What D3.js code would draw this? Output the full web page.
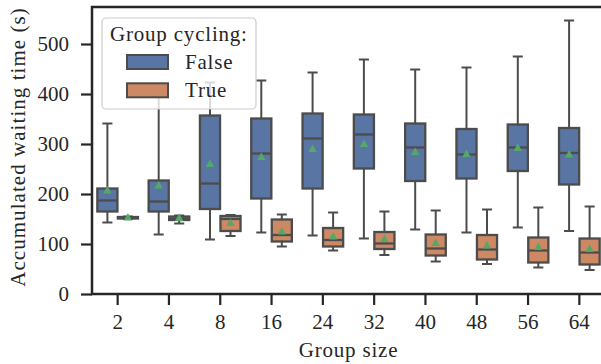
<!DOCTYPE html>
<html>
<head>
<meta charset="utf-8">
<script src="https://cdn.jsdelivr.net/npm/d3@7"></script>
<style>
  html, body { margin: 0; padding: 0; background: #fff; }
  svg text { font-family: "Liberation Serif", "Times New Roman", serif; fill: #262626; }
</style>
</head>
<body>
<svg id="chart" width="601" height="364"></svg>
<script>
// ---------- data ----------
const groups = ["2", "4", "8", "16", "24", "32", "40", "48", "56", "64"];
const hues = ["False", "True"];
// Group cycling = False
const falseLow    = [143, 119, 109, 123, 117, 111, 129, 123, 133, 126];
const falseQ1     = [165, 165, 170, 191, 211, 251, 226, 231, 246, 219];
const falseMedian = [187, 185, 221, 281, 311, 319, 293, 279, 293, 282];
const falseQ3     = [211, 227, 357, 351, 361, 359, 341, 330, 339, 332];
const falseHigh   = [341, 405, 423, 427, 443, 469, 449, 453, 475, 547];
const falseMean   = [208, 218, 261, 275, 291, 301, 285, 281, 293, 280];
// Group cycling = True
const trueLow     = [150, 141, 116,  95,  87,  78,  65,  60,  53,  48];
const trueQ1      = [151, 148, 126, 105,  95,  90,  77,  69,  63,  59];
const trueMedian  = [153, 151, 150, 118, 108, 101,  91,  89,  87,  83];
const trueQ3      = [154, 155, 156, 149, 132, 124, 119, 118, 113, 111];
const trueHigh    = [155, 157, 158, 159, 163, 165, 167, 169, 173, 175];
const trueMean    = [154, 153, 143, 126, 116, 111, 103,  98,  95,  91];
const yTicks = [0, 100, 200, 300, 400, 500];

const colors = { "False": "#5975a4", "True": "#cc8963" };
const lineColor = "#4c4c4c";
const spineColor = "#262626";
const meanColor = "#55a868";

// ---------- layout ----------
const svg = d3.select("#chart");
const pLeft = 92, pRight = 605, pTop = 7, pBottom = 294;

const x = d3.scaleBand().domain(groups).range([pLeft, pRight]).padding(0);
const y = d3.scaleLinear().domain([0, 574]).range([pBottom, pTop]);
const hueOffset = d3.scaleOrdinal().domain(hues).range([-0.2, 0.2]);

const bw = x.bandwidth();
const boxW = 0.4 * bw * 0.98;
const capW = boxW / 2;

const records = [];
groups.forEach((g, i) => {
  records.push({ g, hue: "False", lo: falseLow[i], q1: falseQ1[i], med: falseMedian[i], q3: falseQ3[i], hi: falseHigh[i], mean: falseMean[i] });
  records.push({ g, hue: "True", lo: trueLow[i], q1: trueQ1[i], med: trueMedian[i], q3: trueQ3[i], hi: trueHigh[i], mean: trueMean[i] });
});
const cx = d => x(d.g) + bw / 2 + hueOffset(d.hue) * bw;

const plot = svg.append("g");
const box = plot.selectAll("g.box").data(records).join("g").attr("class", "box");

// whiskers
box.append("line")
  .attr("x1", cx).attr("x2", cx)
  .attr("y1", d => y(d.q3)).attr("y2", d => y(d.hi))
  .attr("stroke", lineColor).attr("stroke-width", 2);
box.append("line")
  .attr("x1", cx).attr("x2", cx)
  .attr("y1", d => y(d.q1)).attr("y2", d => y(d.lo))
  .attr("stroke", lineColor).attr("stroke-width", 2);
// caps
box.append("line")
  .attr("x1", d => cx(d) - capW / 2).attr("x2", d => cx(d) + capW / 2)
  .attr("y1", d => y(d.hi)).attr("y2", d => y(d.hi))
  .attr("stroke", lineColor).attr("stroke-width", 2);
box.append("line")
  .attr("x1", d => cx(d) - capW / 2).attr("x2", d => cx(d) + capW / 2)
  .attr("y1", d => y(d.lo)).attr("y2", d => y(d.lo))
  .attr("stroke", lineColor).attr("stroke-width", 2);
// boxes
box.append("rect")
  .attr("x", d => cx(d) - boxW / 2).attr("width", boxW)
  .attr("y", d => y(d.q3)).attr("height", d => Math.max(0.01, y(d.q1) - y(d.q3)))
  .attr("fill", d => colors[d.hue])
  .attr("stroke", lineColor).attr("stroke-width", 2.3);
// medians
box.append("line")
  .attr("x1", d => cx(d) - boxW / 2).attr("x2", d => cx(d) + boxW / 2)
  .attr("y1", d => y(d.med)).attr("y2", d => y(d.med))
  .attr("stroke", lineColor).attr("stroke-width", 2.3);
// mean markers (triangle up)
const tri = (px, py) => `M${px},${py - 4}L${px + 4.2},${py + 3.6}L${px - 4.2},${py + 3.6}Z`;
box.append("path")
  .attr("d", d => tri(cx(d), y(d.mean)))
  .attr("fill", meanColor);

// ---------- axes ----------
const yAxis = svg.append("g")
  .attr("transform", `translate(${pLeft},0)`)
  .call(d3.axisLeft(y).tickValues(yTicks).tickSize(11).tickPadding(12).tickFormat(d3.format("d")));
const xAxis = svg.append("g")
  .attr("transform", `translate(0,${pBottom})`)
  .call(d3.axisBottom(x).tickSize(11).tickPadding(9));
[yAxis, xAxis].forEach(a => {
  a.select(".domain").remove();
  a.selectAll(".tick line").attr("stroke", spineColor).attr("stroke-width", 2.2);
  a.selectAll(".tick text").attr("font-size", 21).attr("fill", spineColor)
    .style("font-family", "'Liberation Serif', serif");
});

// spines
svg.append("rect")
  .attr("x", pLeft).attr("y", pTop)
  .attr("width", pRight - pLeft).attr("height", pBottom - pTop)
  .attr("fill", "none").attr("stroke", spineColor).attr("stroke-width", 2.5);

// axis labels
svg.append("text")
  .attr("x", (pLeft + pRight) / 2).attr("y", 357)
  .attr("text-anchor", "middle").attr("font-size", 21)
  .attr("letter-spacing", 0.8)
  .text("Group size");
svg.append("text")
  .attr("transform", `translate(25,147) rotate(-90)`)
  .attr("text-anchor", "middle").attr("font-size", 21)
  .attr("letter-spacing", 1.05)
  .text("Accumulated waiting time (s)");

// ---------- legend ----------
const lg = svg.append("g");
lg.append("rect")
  .attr("x", 102).attr("y", 18).attr("width", 154).attr("height", 91)
  .attr("rx", 4).attr("ry", 4)
  .attr("fill", "#fff").attr("fill-opacity", 0.8)
  .attr("stroke", "#cccccc").attr("stroke-width", 1.2);
lg.append("text")
  .attr("x", 110).attr("y", 40.5).attr("font-size", 21)
  .attr("letter-spacing", 0.8)
  .text("Group cycling:");
hues.forEach((h, i) => {
  lg.append("rect")
    .attr("x", 127).attr("y", 55 + i * 28.3).attr("width", 41).attr("height", 14)
    .attr("fill", colors[h]).attr("stroke", lineColor).attr("stroke-width", 2);
  lg.append("text")
    .attr("x", 185).attr("y", 69.3 + i * 28).attr("font-size", 21)
    .attr("letter-spacing", 0.8)
    .text(h);
});
</script>
</body>
</html>
